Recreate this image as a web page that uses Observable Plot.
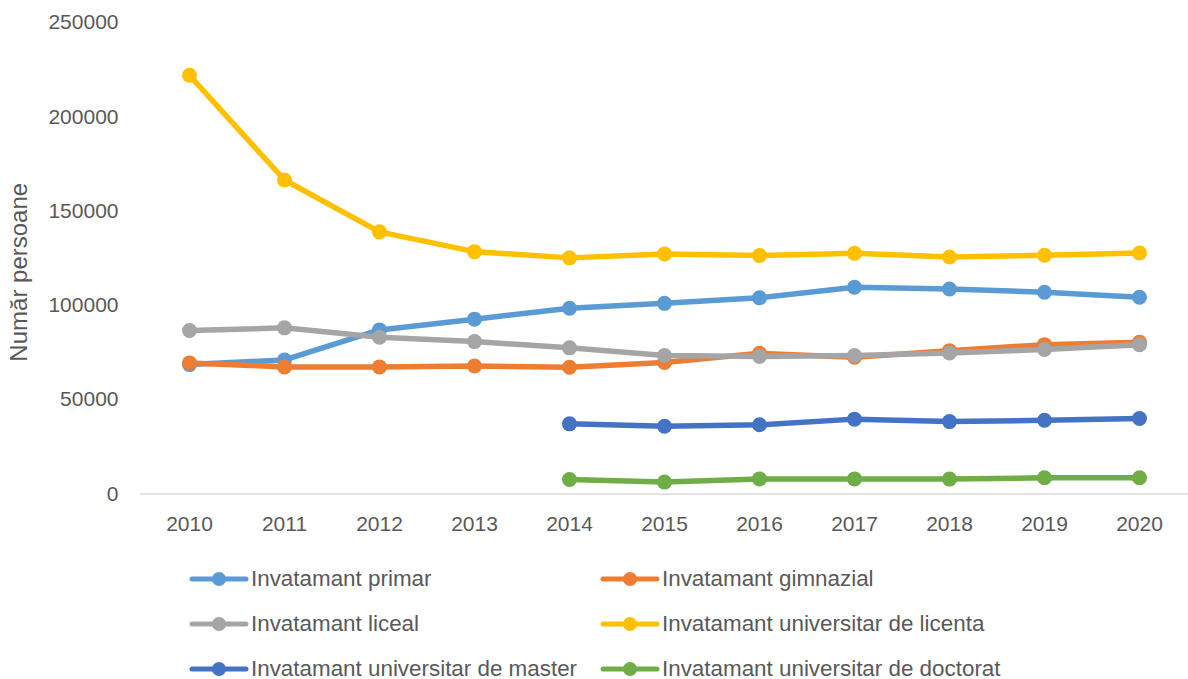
<!DOCTYPE html>
<html>
<head>
<meta charset="utf-8">
<script src="https://cdn.jsdelivr.net/npm/d3@7"></script>
<script src="https://cdn.jsdelivr.net/npm/@observablehq/plot@0.6"></script>
<style>
  body { margin: 0; background: #fff; }
  #wrap { position: relative; width: 1188px; height: 679px; font-family: "Liberation Sans", Arial, sans-serif; color: #595959; }
  #legend { position: absolute; left: 0; top: 545px; width: 1188px; height: 134px; }
  .item { position: absolute; display: flex; align-items: center; font-size: 22.4px; height: 30px; white-space: nowrap; }
  .item svg { margin-right: 2px; }
</style>
</head>
<body>
<div id="wrap"><div id="chart"></div><div id="legend"></div></div>
<script>
const years = ["2010","2011","2012","2013","2014","2015","2016","2017","2018","2019","2020"];
const seriesNames = [
  "Invatamant primar",
  "Invatamant gimnazial",
  "Invatamant liceal",
  "Invatamant universitar de licenta",
  "Invatamant universitar de master",
  "Invatamant universitar de doctorat"
];
const colors = ["#5B9BD5", "#ED7D31", "#A5A5A5", "#FFC000", "#4472C4", "#70AD47"];
const primar    = [68600, 71100, 87000, 92700, 98500, 101100, 104000, 109600, 108700, 107000, 104300];
const gimnazial = [69500, 67400, 67400, 67900, 67200, 69700, 74600, 72500, 76000, 79200, 80500];
const liceal    = [86700, 88100, 83100, 80800, 77500, 73400, 72900, 73400, 74800, 76600, 79200];
const licenta   = [222000, 166500, 139000, 128500, 125200, 127300, 126400, 127600, 125700, 126600, 127800];
const master    = [null, null, null, null, 37200, 35900, 36700, 39700, 38400, 39100, 40000];
const doctorat  = [null, null, null, null, 7700, 6300, 8000, 8000, 7900, 8600, 8600];
const yTicks = [0, 50000, 100000, 150000, 200000, 250000];
const yLabel = "Număr persoane";

const allSeries = [primar, gimnazial, liceal, licenta, master, doctorat];
const rows = [];
allSeries.forEach((vals, si) => {
  vals.forEach((v, i) => {
    if (v != null) rows.push({series: seriesNames[si], year: years[i], value: v});
  });
});

const marks = [
  Plot.ruleY([0], {stroke: "#d9d9d9", strokeWidth: 1.5}),
  Plot.axisY({ticks: yTicks, tickSize: 0, tickPadding: 22, tickFormat: d => String(d), fontSize: 21, fill: "#595959", label: null}),
  Plot.axisX({tickSize: 0, tickPadding: 22, fontSize: 21, fill: "#595959", label: null}),
  Plot.text([yLabel], {frameAnchor: "left", textAnchor: "middle", text: d => d, rotate: -90, dx: -121, dy: 14, fontSize: 24, fill: "#595959"})
];
seriesNames.forEach((name, si) => {
  const data = rows.filter(r => r.series === name);
  marks.push(Plot.line(data, {x: "year", y: "value", stroke: colors[si], strokeWidth: 5.5}));
  marks.push(Plot.dot(data, {x: "year", y: "value", fill: colors[si], r: 7.5}));
});

const chart = Plot.plot({
  width: 1188,
  height: 545,
  marginLeft: 140,
  marginRight: 0,
  marginTop: 22,
  marginBottom: 51.5,
  style: {fontFamily: "'Liberation Sans', Arial, sans-serif", background: "#fff"},
  x: {type: "point", domain: years, padding: 0.5},
  y: {domain: [0, 250000]},
  marks
});
document.getElementById("chart").appendChild(chart);

const legend = document.getElementById("legend");
const positions = [[189, 34], [600, 34], [189, 79], [600, 79], [189, 124], [600, 124]];
seriesNames.forEach((name, si) => {
  const it = document.createElement("div");
  it.className = "item";
  it.style.left = positions[si][0] + "px";
  it.style.top = (positions[si][1] - 15) + "px";
  it.innerHTML = `<svg width="60" height="20"><line x1="3" x2="57" y1="10" y2="10" stroke="${colors[si]}" stroke-width="5" stroke-linecap="round"/><circle cx="30" cy="10" r="7" fill="${colors[si]}"/></svg><span>${name}</span>`;
  legend.appendChild(it);
});
</script>
</body>
</html>
